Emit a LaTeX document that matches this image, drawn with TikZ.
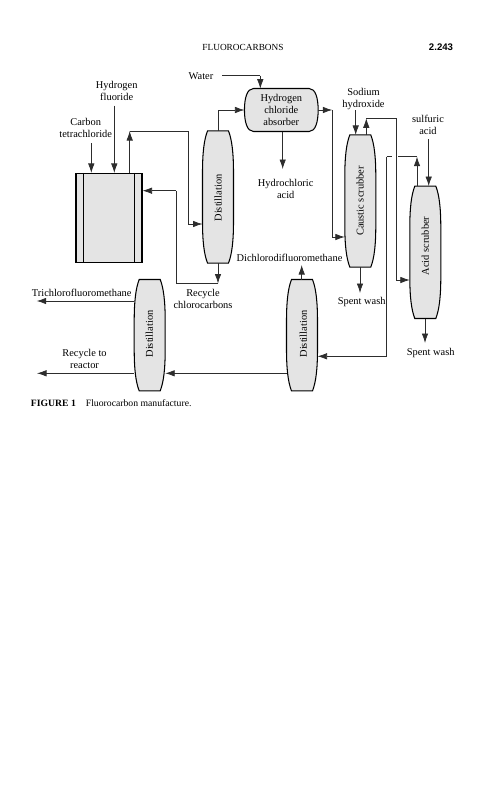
\documentclass[tikz,border=0pt]{standalone}
\usepackage{fontspec}
\setmainfont{Liberation Serif}
\newfontfamily\headsans{Liberation Sans}
\usepackage{xcolor}
\usetikzlibrary{arrows.meta,calc}
\definecolor{vesselgray}{RGB}{228, 228, 228}
\definecolor{pipegray}{RGB}{45, 45, 45}

\newcommand{\columnoutline}[1]{%
  \draw[vessel] ([shift={(5,0)}]#1.north west)
    .. controls ([shift={(1.5,9)}]#1.north west) and ([shift={(0,22)}]#1.north west) .. ([shift={(0,42)}]#1.north west)
    -- ([shift={(0,-42)}]#1.south west)
    .. controls ([shift={(0,-22)}]#1.south west) and ([shift={(1.5,-9)}]#1.south west) .. ([shift={(5,0)}]#1.south west)
    -- ([shift={(-5,0)}]#1.south east)
    .. controls ([shift={(-1.5,-9)}]#1.south east) and ([shift={(0,-22)}]#1.south east) .. ([shift={(0,-42)}]#1.south east)
    -- ([shift={(0,42)}]#1.north east)
    .. controls ([shift={(0,22)}]#1.north east) and ([shift={(-1.5,9)}]#1.north east) .. ([shift={(-5,0)}]#1.north east)
    -- cycle;}
\newcommand{\drumoutline}[1]{%
  \draw[vessel] ([shift={(9,0)}]#1.north west)
    .. controls ([shift={(2.5,0)}]#1.north west) and ([shift={(0,10)}]#1.north west) .. (#1.west)
    .. controls ([shift={(0,-10)}]#1.south west) and ([shift={(2.5,0)}]#1.south west) .. ([shift={(9,0)}]#1.south west)
    -- ([shift={(-9,0)}]#1.south east)
    .. controls ([shift={(-2.5,0)}]#1.south east) and ([shift={(0,-10)}]#1.south east) .. (#1.east)
    .. controls ([shift={(0,10)}]#1.north east) and ([shift={(-2.5,0)}]#1.north east) .. ([shift={(-9,0)}]#1.north east)
    -- cycle;}

\begin{document}
\begin{tikzpicture}[
  x=1pt, y=-1pt,
  vessel/.style={fill=vesselgray, draw=black, line width=1.05pt},
  column/.style={rectangle, minimum width=30.6pt, inner sep=0pt},
  collbl/.style={rotate=90, inner sep=0pt, font=\fontsize{10.4}{12}\selectfont},
  lbl/.style={align=center, inner sep=0pt, font=\fontsize{10.4}{12}\selectfont},
  pipe/.style={line width=0.75pt, color=pipegray},
  flow/.style={-{Latex[length=9.5pt,width=6.5pt]}, line width=0.75pt, color=pipegray}
]
\useasboundingbox (0,0) rectangle (481,800);

% Page head and caption
\node[lbl, font=\fontsize{9.3}{10}\selectfont] (head) at (243,47) {FLUOROCARBONS};
\node[lbl, font=\headsans\fontsize{9.6}{11}\selectfont\bfseries] (page) at (441,47) {2.243};
\node[lbl, anchor=west, font=\fontsize{9.7}{10}\selectfont] (cap) at (30.7,403.5) {\textbf{FIGURE 1}\hspace{10pt}Fluorocarbon manufacture.};

% Vessels
\node[rectangle, vessel, minimum width=66pt, minimum height=89pt, inner sep=0pt] (reactor) at (109,218) {};
\draw[line width=1.05pt] ([xshift=8pt]reactor.north west) -- ([xshift=8pt]reactor.south west);
\draw[line width=1.05pt] ([xshift=-8.5pt]reactor.north east) -- ([xshift=-8.5pt]reactor.south east);

\node[column, minimum height=131.7pt] (dist1) at (218,197) {};
\node[column, minimum height=131.7pt] (caustic) at (360.3,201) {};
\node[column, minimum height=132pt] (acid) at (425.3,252.3) {};
\node[column, minimum height=111pt] (dist2) at (149.7,335.2) {};
\node[column, minimum height=111pt] (dist3) at (302,335.2) {};
\node[rectangle, minimum width=73.3pt, minimum height=42.6pt, inner sep=0pt] (absorber) at (281.3,110) {};
\columnoutline{dist1}
\columnoutline{caustic}
\columnoutline{acid}
\columnoutline{dist2}
\columnoutline{dist3}
\drumoutline{absorber}
\node[collbl] (dist1lbl) at (218,198) {Distillation};
\node[collbl] (causticlbl) at (360,201) {Caustic scrubber};
\node[collbl] (acidlbl) at (425.3,246) {Acid scrubber};
\node[collbl] (dist2lbl) at (149.3,334) {Distillation};
\node[collbl] (dist3lbl) at (303.3,334) {Distillation};
\node[lbl] (absorberlbl) at (281.3,109.5) {Hydrogen\\chloride\\absorber};

% Stream labels
\node[lbl] (water) at (201,76) {Water};
\node[lbl] (hf) at (116.7,90.7) {Hydrogen\\fluoride};
\node[lbl] (ccl) at (85.7,128.3) {Carbon\\tetrachloride};
\node[lbl] (hcl) at (285.7,188.5) {Hydrochloric\\acid};
\node[lbl] (naoh) at (363.5,99.3) {Sodium\\hydroxide};
\node[lbl] (sulf) at (428,124.5) {sulfuric\\acid};
\node[lbl] (recy) at (203,299) {Recycle\\chlorocarbons};
\node[lbl] (dichl) at (289.5,257.7) {Dichlorodifluoromethane};
\node[lbl] (wash1) at (361.7,301.7) {Spent wash};
\node[lbl] (wash2) at (430.7,352.7) {Spent wash};
\node[lbl] (trichl) at (81.7,292.7) {Trichlorofluoromethane};
\node[lbl] (rereact) at (84.5,358.7) {Recycle to\\reactor};

% Free ends and bends
\coordinate (waterin) at (222,75.7);
\coordinate (cclin) at (91.3,143);
\coordinate (hfin) at (114.3,105.7);
\coordinate (overhead) at (129.7,131);
\coordinate (overturn) at (188.3,131);
\coordinate (backturn) at (176,190.7);
\coordinate (recyend) at (218,283.5);
\coordinate (hclend) at (282.7,169);
\coordinate (naohin) at (355.7,110);
\coordinate (causticup) at (366.3,118.3);
\coordinate (causticturn) at (396,118.3);
\coordinate (sulfin) at (428.7,139);
\coordinate (acidup) at (417,156.7);
\coordinate (acidturn) at (386.7,156.7);
\coordinate (dist3in) at (386.7,356.3);
\coordinate (abturn) at (332.3,110);
\coordinate (wash1end) at (360,293);
\coordinate (wash2end) at (425,343);
\coordinate (dichlend) at (301.7,265);
\coordinate (trichlend) at (36.7,301);
\coordinate (rereactend) at (37,373.3);

% Feeds to reactor and recycle loop
\draw[flow] (cclin) -- (cclin |- reactor.north);
\draw[flow] (hfin) -- (hfin |- reactor.north);
\draw[flow] (overhead |- reactor.north) -- (overhead);
\draw[pipe] (overhead) -- (overturn) -- (overturn |- 0,224);
\draw[flow] (overturn |- 0,224) -- (dist1.west |- 0,224);
\draw[flow] (dist1.south) -- (recyend);
\draw[pipe] (recyend) -- (backturn |- recyend) -- (backturn);
\draw[flow] (backturn) -- (reactor.east |- backturn);

% Absorber
\draw[pipe] (dist1.north) -- (dist1.north |- absorber.west);
\draw[flow] (dist1.north |- absorber.west) -- (absorber.west);
\draw[pipe] (waterin) -- (waterin -| 260.3,0);
\draw[flow] (waterin -| 260.3,0) -- (260.3,88.7);
\draw[flow] (absorber.south -| hclend) -- (hclend);
\draw[flow] (absorber.east) -- (abturn);
\draw[pipe] (abturn) -- (abturn |- 0,237);
\draw[flow] (abturn |- 0,237) -- (caustic.west |- 0,237);

% Scrubbers
\draw[flow] (naohin) -- (naohin |- caustic.north);
\draw[flow] (causticup |- caustic.north) -- (causticup);
\draw[pipe] (causticup) -- (causticturn) -- (causticturn |- 0,280);
\draw[flow] (causticturn |- 0,280) -- (acid.west |- 0,280);
\draw[flow] (wash1end |- caustic.south) -- (wash1end);
\draw[flow] (sulfin) -- (sulfin |- acid.north);
\draw[flow] (acidup |- acid.north) -- (acidup);
\draw[pipe] (acidup) -- ++(-19,0);
\draw[pipe] (acidturn) -- ++(5.5,0);
\draw[pipe] (acidturn) -- (dist3in);
\draw[flow] (dist3in) -- (dist3.east |- dist3in);
\draw[flow] (wash2end |- acid.south) -- (wash2end);

% Distillation train
\draw[flow] (dichlend |- dist3.north) -- (dichlend);
\draw[flow] (dist3.west |- rereactend) -- (dist2.east |- rereactend);
\draw[flow] (dist2.west |- trichlend) -- (trichlend);
\draw[flow] (dist2.west |- rereactend) -- (rereactend);

\end{tikzpicture}
\end{document}
